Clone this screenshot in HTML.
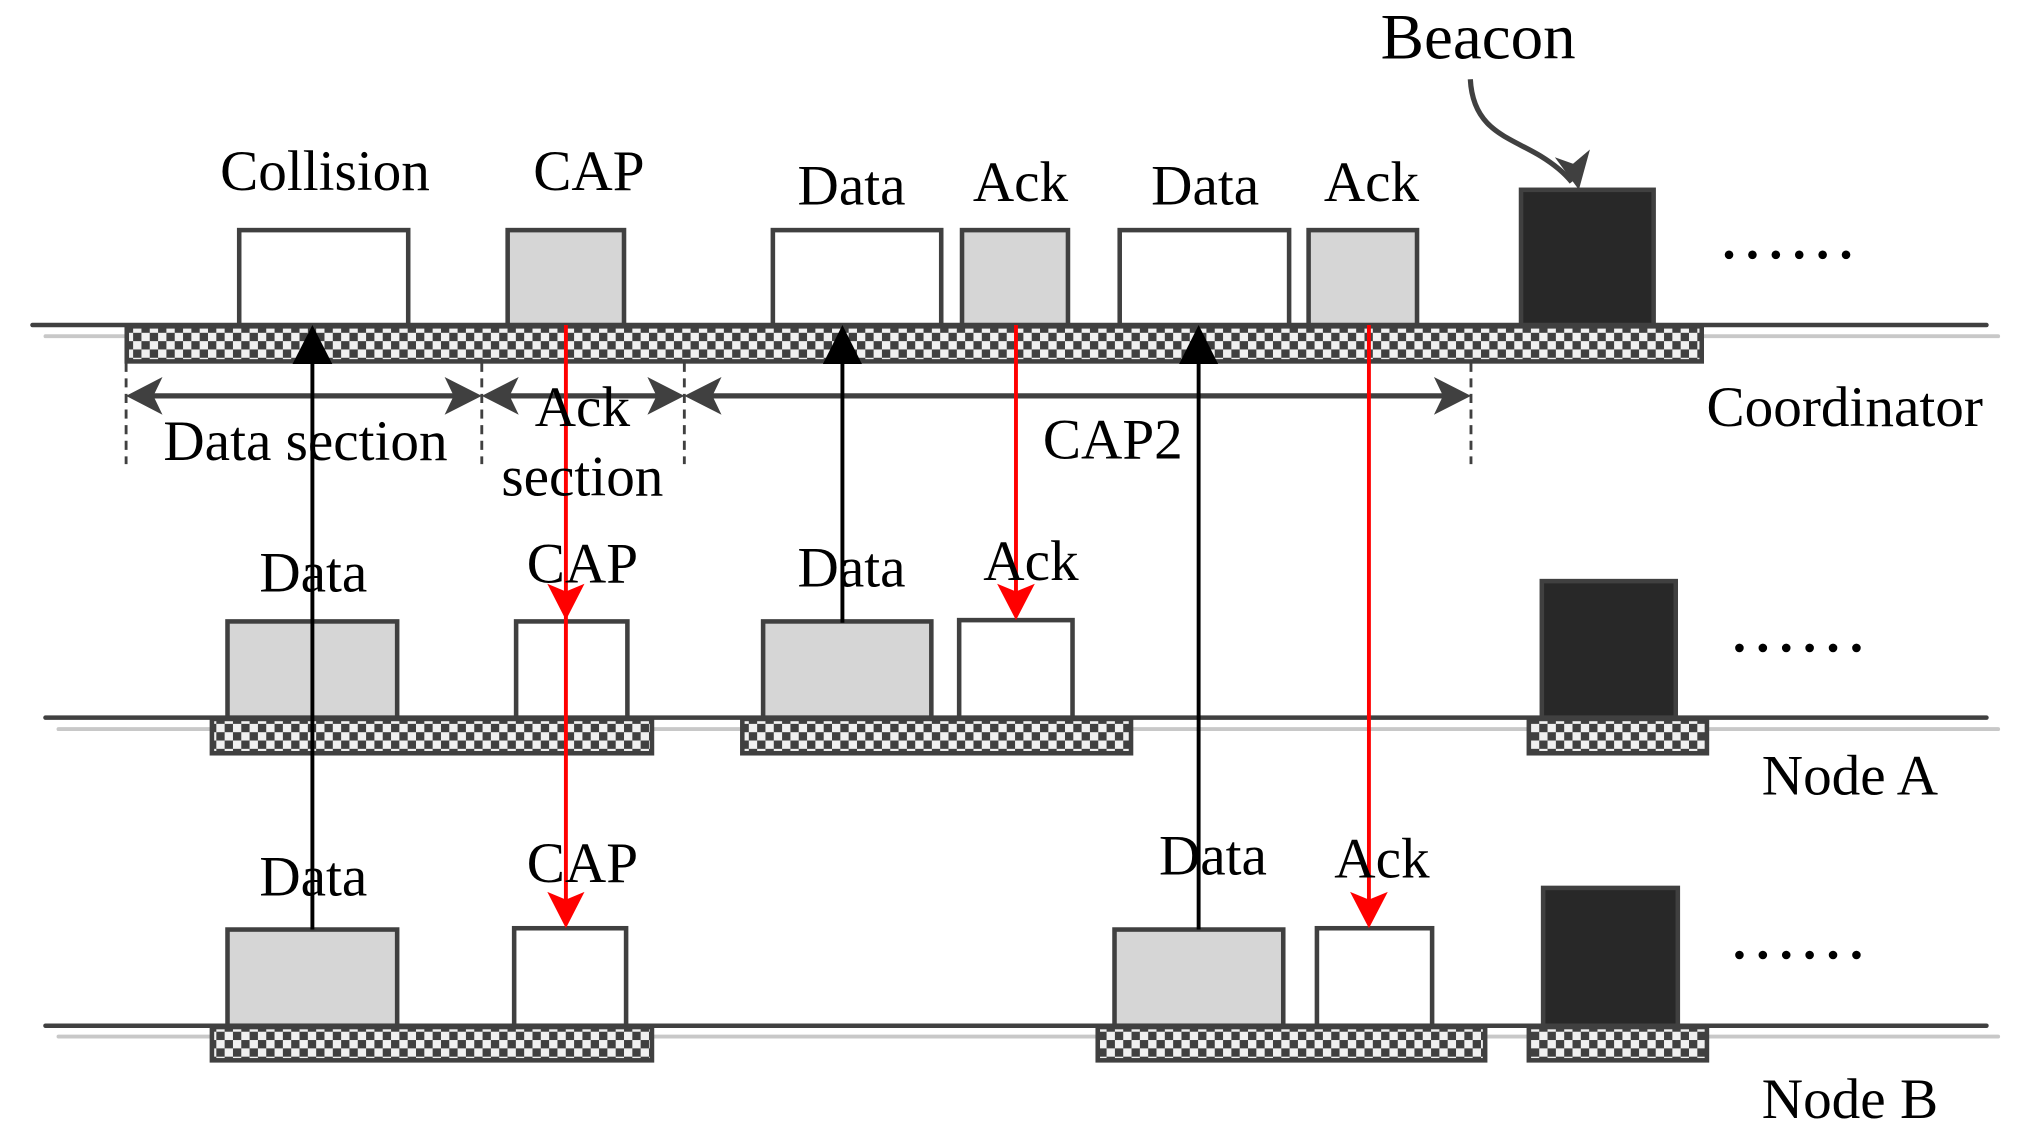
<!DOCTYPE html>
<html><head><meta charset="utf-8"><style>html,body{margin:0;padding:0;background:#fff}svg{display:block}</style></head>
<body>
<svg width="2027" height="1146" viewBox="0 0 1559.2 881.5" preserveAspectRatio="none" xmlns="http://www.w3.org/2000/svg">
<defs>
<pattern id="ck" width="12.8" height="12.8" patternUnits="userSpaceOnUse">
<rect width="12.8" height="12.8" fill="#f0f0f0"/>
<rect width="6.4" height="6.4" fill="#404040"/>
<rect x="6.4" y="6.4" width="6.4" height="6.4" fill="#404040"/>
</pattern>
</defs>
<g font-family="'Liberation Serif', serif" font-size="44" fill="#000" text-anchor="middle">
<!-- grey lines -->
<g stroke="#c8c8c8" stroke-width="3" stroke-linecap="round">
<line x1="35" y1="258.6" x2="1537" y2="258.6"/>
<line x1="45" y1="560.8" x2="1537" y2="560.8"/>
<line x1="45" y1="797.3" x2="1537" y2="797.3"/>
</g>
<!-- main lines -->
<g stroke="#404040" stroke-width="3.5" stroke-linecap="round">
<line x1="25" y1="250" x2="1528" y2="250"/>
<line x1="35" y1="552" x2="1528" y2="552"/>
<line x1="35" y1="789" x2="1528" y2="789"/>
</g>
<!-- checker bars -->
<g fill="url(#ck)" stroke="#404040" stroke-width="3.5">
<rect x="97.5" y="251" width="1211.5" height="27"/>
<rect x="163" y="553" width="338.5" height="26.4"/>
<rect x="571" y="553" width="299" height="26.4"/>
<rect x="1176" y="553" width="137" height="26.4"/>
<rect x="163" y="790" width="338.5" height="25.6"/>
<rect x="844.4" y="790" width="298" height="25.6"/>
<rect x="1176" y="790" width="137" height="25.6"/>
</g>
<!-- boxes -->
<g stroke="#404040" stroke-width="3.5">
<rect x="184" y="177" width="130" height="73" fill="#fff"/>
<rect x="390.5" y="177" width="89.5" height="73" fill="#d6d6d6"/>
<rect x="594.5" y="177" width="129.5" height="73" fill="#fff"/>
<rect x="740" y="177" width="81.5" height="73" fill="#d6d6d6"/>
<rect x="861.3" y="177" width="130.3" height="73" fill="#fff"/>
<rect x="1006.6" y="177" width="83.4" height="73" fill="#d6d6d6"/>
<rect x="1170" y="146" width="102" height="104" fill="#282828"/>

<rect x="175" y="478" width="130.5" height="74" fill="#d6d6d6"/>
<rect x="397" y="478" width="85.6" height="74" fill="#fff"/>
<rect x="587" y="478" width="129.4" height="74" fill="#d6d6d6"/>
<rect x="737.8" y="477" width="87.2" height="75" fill="#fff"/>
<rect x="1186" y="447" width="103" height="105" fill="#282828"/>

<rect x="175" y="715" width="130.5" height="74" fill="#d6d6d6"/>
<rect x="395.5" y="714" width="86.1" height="75" fill="#fff"/>
<rect x="857.3" y="715" width="129.8" height="74" fill="#d6d6d6"/>
<rect x="1013" y="714" width="88.6" height="75" fill="#fff"/>
<rect x="1187" y="683" width="103.6" height="106" fill="#282828"/>
</g>
<!-- dots -->
<g fill="#000">
<circle cx="1330" cy="196" r="3.3"/><circle cx="1348" cy="196" r="3.3"/><circle cx="1366" cy="196" r="3.3"/><circle cx="1384" cy="196" r="3.3"/><circle cx="1402" cy="196" r="3.3"/><circle cx="1420" cy="196" r="3.3"/>
<circle cx="1338" cy="498.4" r="3.3"/><circle cx="1356" cy="498.4" r="3.3"/><circle cx="1374" cy="498.4" r="3.3"/><circle cx="1392" cy="498.4" r="3.3"/><circle cx="1410" cy="498.4" r="3.3"/><circle cx="1428" cy="498.4" r="3.3"/>
<circle cx="1338" cy="734.6" r="3.3"/><circle cx="1356" cy="734.6" r="3.3"/><circle cx="1374" cy="734.6" r="3.3"/><circle cx="1392" cy="734.6" r="3.3"/><circle cx="1410" cy="734.6" r="3.3"/><circle cx="1428" cy="734.6" r="3.3"/>
</g>
<!-- dashed verticals -->
<g stroke="#404040" stroke-width="2.2" stroke-dasharray="7,5">
<line x1="97" y1="279" x2="97" y2="357"/>
<line x1="370.6" y1="279" x2="370.6" y2="357"/>
<line x1="526.4" y1="279" x2="526.4" y2="357"/>
<line x1="1131.5" y1="279" x2="1131.5" y2="357"/>
</g>
<!-- dimension lines -->
<g stroke="#404040" stroke-width="4">
<line x1="105" y1="304.5" x2="362" y2="304.5"/>
<line x1="378" y1="304.5" x2="518" y2="304.5"/>
<line x1="534" y1="304.5" x2="1120" y2="304.5"/>
</g>
<g fill="#404040">
<path d="M97,304.5 L125,290 L118,304.5 L125,319 Z"/>
<path d="M370.6,304.5 L342,290 L349,304.5 L342,319 Z"/>
<path d="M370.6,304.5 L399,290 L392,304.5 L399,319 Z"/>
<path d="M526.4,304.5 L498,290 L505,304.5 L498,319 Z"/>
<path d="M526.4,304.5 L555,290 L548,304.5 L555,319 Z"/>
<path d="M1131.5,304.5 L1103,290 L1110,304.5 L1103,319 Z"/>
</g>
<!-- beacon arrow -->
<path d="M1131,61 C1133,100 1160,105 1185,120 C1198,128 1205,135 1209,140" fill="none" stroke="#404040" stroke-width="4"/>
<path d="M1214.5,146 L1196,121 L1210,126 L1223,115 Z" fill="#404040"/>
<!-- black up arrows -->
<g stroke="#000" stroke-width="3">
<line x1="240.3" y1="715" x2="240.3" y2="270"/>
<line x1="648" y1="479" x2="648" y2="270"/>
<line x1="922" y1="715" x2="922" y2="270"/>
</g>
<g fill="#000">
<path d="M240.3,250 L225,280 L255.6,280 Z"/>
<path d="M648,250 L633,280 L663,280 Z"/>
<path d="M922,250 L907,280 L937,280 Z"/>
</g>
<!-- red down arrows -->
<g stroke="#ff0000" stroke-width="3">
<line x1="435.3" y1="250" x2="435.3" y2="700"/>
<line x1="781.5" y1="250" x2="781.5" y2="465"/>
<line x1="1053" y1="250" x2="1053" y2="700"/>
</g>
<g fill="#ff0000">
<path d="M435.3,477 L421,449 L435.3,455 L449.6,449 Z"/>
<path d="M435.3,714 L421,686 L435.3,692 L449.6,686 Z"/>
<path d="M781.5,477 L767,449 L781.5,455 L796,449 Z"/>
<path d="M1053,714 L1038.5,686 L1053,692 L1067.5,686 Z"/>
</g>
<!-- labels -->
<text x="250" y="146">Collision</text>
<text x="453" y="146">CAP</text>
<text x="655" y="157.4">Data</text>
<text x="785" y="154.6">Ack</text>
<text x="927" y="157.4">Data</text>
<text x="1055" y="154.6">Ack</text>
<text x="1137" y="45" font-size="50">Beacon</text>
<text x="235" y="354">Data section</text>
<text x="448" y="327.5">Ack</text>
<text x="448" y="381">section</text>
<text x="856" y="352.8">CAP2</text>
<text x="1419" y="327.5">Coordinator</text>

<text x="241" y="455">Data</text>
<text x="448" y="448">CAP</text>
<text x="655" y="451">Data</text>
<text x="793" y="446">Ack</text>
<text x="1423" y="611">Node A</text>

<text x="241" y="689">Data</text>
<text x="448" y="678.4">CAP</text>
<text x="933" y="672.7">Data</text>
<text x="1063" y="675">Ack</text>
<text x="1423" y="860">Node B</text>
</g>
</svg>
</body></html>
